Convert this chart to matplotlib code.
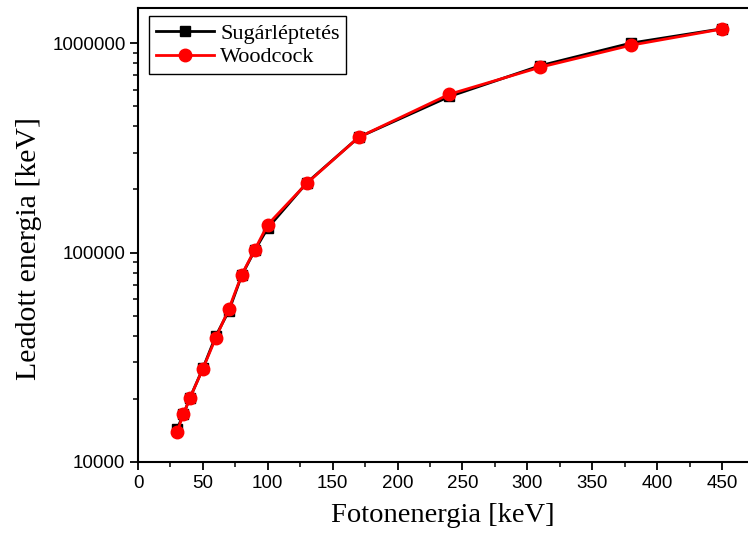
import matplotlib
matplotlib.use("Agg")
import matplotlib.pyplot as plt
from matplotlib.ticker import LogLocator, NullFormatter, MultipleLocator

energy = [30, 35, 40, 50, 60, 70, 80, 90, 100, 130, 170, 240, 310, 380, 450]
sugar = [14300, 16900, 20200, 28000, 40000, 52700, 78000, 102500, 131000, 215000, 355000, 556000, 780000, 1000000, 1170000]
woodcock = [13900, 16900, 20200, 27900, 39200, 53800, 78500, 103300, 136000, 214000, 355000, 570000, 767000, 977000, 1167000]

fig = plt.figure(figsize=(7.48, 5.43), dpi=100)
ax = fig.add_axes([138/748, 81/543, 610/748, 454/543])

ax.plot(energy, sugar, color="black", marker="s", markersize=7, linewidth=2, label="Sugárléptetés")
ax.plot(energy, woodcock, color="red", marker="o", markersize=9, linewidth=2, label="Woodcock")

ax.set_yscale("log")
ax.set_xlim(0, 470)
ax.set_ylim(10000, 1.47e6)
ax.set_yticks([10000, 100000, 1000000])
ax.set_yticklabels(["10000", "100000", "1000000"])
ax.yaxis.set_minor_locator(LogLocator(base=10, subs=range(2, 10)))
ax.yaxis.set_minor_formatter(NullFormatter())
ax.xaxis.set_major_locator(MultipleLocator(50))
ax.xaxis.set_minor_locator(MultipleLocator(25))

for lab in ax.get_xticklabels() + ax.get_yticklabels():
    lab.set_fontfamily("Liberation Sans")
    lab.set_fontsize(13.5)
ax.tick_params(which="major", direction="out", length=6, width=1.3, pad=3)
ax.tick_params(which="minor", direction="out", length=3.5, width=1.1)
for s in ax.spines.values():
    s.set_linewidth(1.5)
ax.spines["right"].set_visible(False)

ax.set_xlabel("Fotonenergia [keV]", fontfamily="Liberation Serif", fontsize=20.5, labelpad=8)
ax.set_ylabel("Leadott energia [keV]", fontfamily="Liberation Serif", fontsize=21.5)
ax.yaxis.set_label_coords(-0.158, 0.471)

leg = ax.legend(loc="upper left", prop={"family": "Liberation Serif", "size": 16},
                fancybox=False, edgecolor="black", framealpha=1, borderpad=0.3,
                handlelength=2.6, labelspacing=0.15, handletextpad=0.3,
                bbox_to_anchor=(0.0, 1.006))
leg.get_frame().set_linewidth(1.0)

fig.savefig("out.png", dpi=100)
